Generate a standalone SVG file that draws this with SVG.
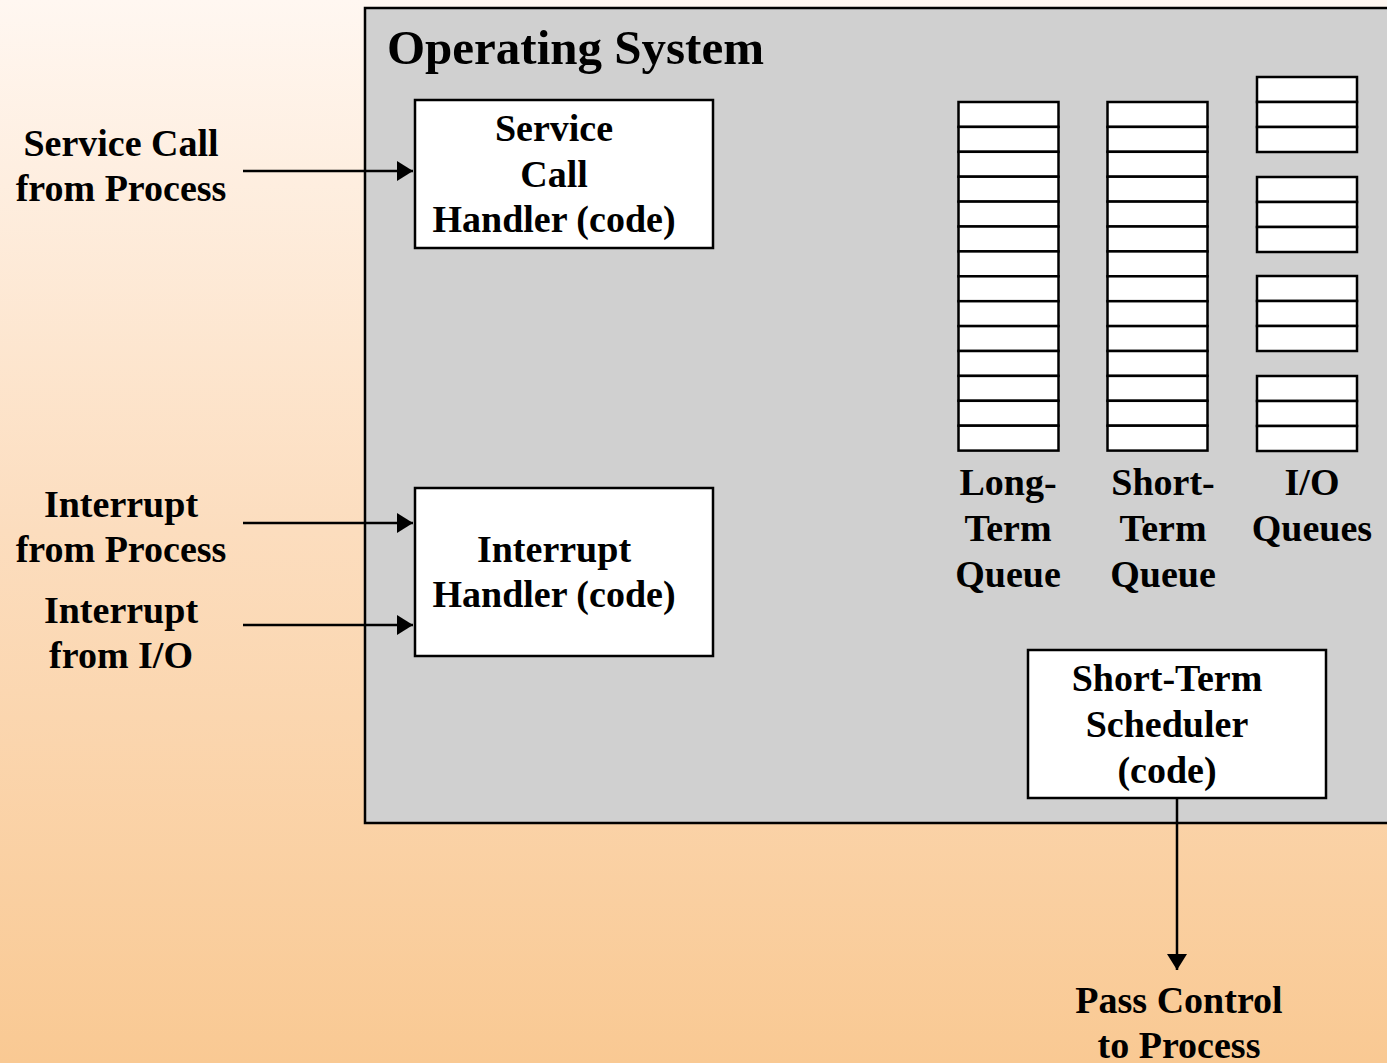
<svg xmlns="http://www.w3.org/2000/svg" width="1387" height="1063" viewBox="0 0 1387 1063">
<defs>
<linearGradient id="bg" x1="0" y1="0" x2="0" y2="1">
<stop offset="0" stop-color="#FFF7F1"/>
<stop offset="0.5" stop-color="#FCDDBE"/>
<stop offset="1" stop-color="#F9C993"/>
</linearGradient>
<marker id="ah" markerWidth="16" markerHeight="20" refX="16" refY="10" orient="auto" markerUnits="userSpaceOnUse" viewBox="0 0 16 20">
<path d="M0,0 L16,10 L0,20 z" fill="#000"/>
</marker>
</defs>
<style>
text{font-family:"Liberation Serif","Times New Roman",serif;font-weight:bold;fill:#000;text-anchor:middle;font-size:38px}
.box{fill:#fff;stroke:#000;stroke-width:2.5}
.cell{fill:#fff;stroke:#000;stroke-width:2.5}
.conn{stroke:#000;stroke-width:2.5;fill:none}
</style>
<rect width="1387" height="1063" fill="url(#bg)"/>
<g id="os">
<rect x="365" y="8" width="1030" height="815" fill="#D0D0D0" stroke="#000" stroke-width="2.5"/>
<text x="387" y="64" style="text-anchor:start;font-size:49px">Operating System</text>
</g>
<g id="svc-handler">
<rect class="box" x="415" y="100" width="298" height="148"/>
<text x="554" y="141">Service</text>
<text x="554" y="187">Call</text>
<text x="554" y="232">Handler (code)</text>
</g>
<g id="int-handler">
<rect class="box" x="415" y="488" width="298" height="168"/>
<text x="554" y="562">Interrupt</text>
<text x="554" y="607">Handler (code)</text>
</g>
<g id="scheduler">
<rect class="box" x="1028" y="650" width="298" height="148"/>
<text x="1167" y="691">Short-Term</text>
<text x="1167" y="737">Scheduler</text>
<text x="1167" y="783">(code)</text>
</g>
<g id="long-term-queue">
<rect class="cell" x="958.500" y="102" width="100" height="24.9"/>
<rect class="cell" x="958.500" y="126.9" width="100" height="24.9"/>
<rect class="cell" x="958.500" y="151.8" width="100" height="24.9"/>
<rect class="cell" x="958.500" y="176.7" width="100" height="24.9"/>
<rect class="cell" x="958.500" y="201.6" width="100" height="24.9"/>
<rect class="cell" x="958.500" y="226.5" width="100" height="24.9"/>
<rect class="cell" x="958.500" y="251.4" width="100" height="24.9"/>
<rect class="cell" x="958.500" y="276.3" width="100" height="24.9"/>
<rect class="cell" x="958.500" y="301.2" width="100" height="24.9"/>
<rect class="cell" x="958.500" y="326.1" width="100" height="24.9"/>
<rect class="cell" x="958.500" y="351" width="100" height="24.9"/>
<rect class="cell" x="958.500" y="375.9" width="100" height="24.9"/>
<rect class="cell" x="958.500" y="400.8" width="100" height="24.9"/>
<rect class="cell" x="958.500" y="425.7" width="100" height="24.9"/>
<text x="1008" y="495">Long-</text>
<text x="1008" y="541">Term</text>
<text x="1008" y="587">Queue</text>
</g>
<g id="short-term-queue">
<rect class="cell" x="1107.500" y="102" width="100" height="24.9"/>
<rect class="cell" x="1107.500" y="126.9" width="100" height="24.9"/>
<rect class="cell" x="1107.500" y="151.8" width="100" height="24.9"/>
<rect class="cell" x="1107.500" y="176.7" width="100" height="24.9"/>
<rect class="cell" x="1107.500" y="201.6" width="100" height="24.9"/>
<rect class="cell" x="1107.500" y="226.5" width="100" height="24.9"/>
<rect class="cell" x="1107.500" y="251.4" width="100" height="24.9"/>
<rect class="cell" x="1107.500" y="276.3" width="100" height="24.9"/>
<rect class="cell" x="1107.500" y="301.2" width="100" height="24.9"/>
<rect class="cell" x="1107.500" y="326.1" width="100" height="24.9"/>
<rect class="cell" x="1107.500" y="351" width="100" height="24.9"/>
<rect class="cell" x="1107.500" y="375.9" width="100" height="24.9"/>
<rect class="cell" x="1107.500" y="400.8" width="100" height="24.9"/>
<rect class="cell" x="1107.500" y="425.7" width="100" height="24.9"/>
<text x="1163" y="495">Short-</text>
<text x="1163" y="541">Term</text>
<text x="1163" y="587">Queue</text>
</g>
<g id="io-queues">
<rect class="cell" x="1257" y="77" width="100" height="25"/>
<rect class="cell" x="1257" y="102" width="100" height="25"/>
<rect class="cell" x="1257" y="127" width="100" height="25"/>
<rect class="cell" x="1257" y="177" width="100" height="25"/>
<rect class="cell" x="1257" y="202" width="100" height="25"/>
<rect class="cell" x="1257" y="227" width="100" height="25"/>
<rect class="cell" x="1257" y="276" width="100" height="25"/>
<rect class="cell" x="1257" y="301" width="100" height="25"/>
<rect class="cell" x="1257" y="326" width="100" height="25"/>
<rect class="cell" x="1257" y="376" width="100" height="25"/>
<rect class="cell" x="1257" y="401" width="100" height="25"/>
<rect class="cell" x="1257" y="426" width="100" height="25"/>
<text x="1312" y="495">I/O</text>
<text x="1312" y="541">Queues</text>
</g>
<g id="label-svc">
<text x="121" y="156">Service Call</text>
<text x="121" y="201">from Process</text>
</g>
<g id="label-int-proc">
<text x="121" y="517">Interrupt</text>
<text x="121" y="562">from Process</text>
</g>
<g id="label-int-io">
<text x="121" y="623">Interrupt</text>
<text x="121" y="668">from I/O</text>
</g>
<g id="label-pass">
<text x="1179" y="1013">Pass Control</text>
<text x="1179" y="1058">to Process</text>
</g>
<g id="connectors">
<line class="conn" x1="243" y1="171" x2="413" y2="171" marker-end="url(#ah)"/>
<line class="conn" x1="243" y1="523" x2="413" y2="523" marker-end="url(#ah)"/>
<line class="conn" x1="243" y1="625" x2="413" y2="625" marker-end="url(#ah)"/>
<line class="conn" x1="1177" y1="798" x2="1177" y2="970" marker-end="url(#ah)"/>
</g>
</svg>
